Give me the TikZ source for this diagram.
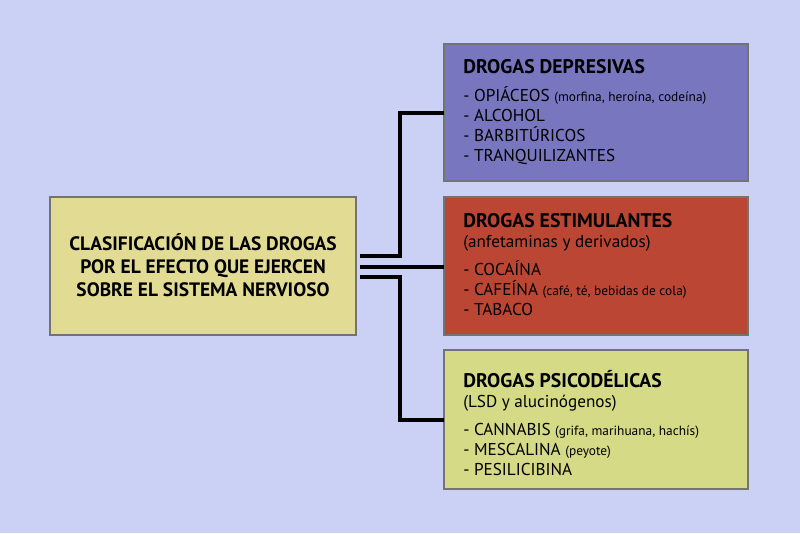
\documentclass[tikz,border=0pt]{standalone}
\usepackage{fontspec}
\setmainfont{PT Sans}
\usetikzlibrary{positioning}
\definecolor{fondo}{RGB}{203,208,245}
\definecolor{caqui}{RGB}{226,219,148}
\definecolor{morado}{RGB}{120,118,190}
\definecolor{rojo}{RGB}{188,70,52}
\definecolor{verde}{RGB}{212,218,134}
\tikzset{
  caja/.style={draw=black!55, line width=0.8pt},
  linea/.style={line width=2.2pt, black},
  texto/.style={anchor=north west, align=left, inner sep=0pt,
    font=\fontsize{12.2}{14.2}\selectfont}
}
\newcommand{\peq}[1]{{\fontsize{9.5}{10}\selectfont #1}}
\begin{document}
\begin{tikzpicture}[x=0.025cm, y=-0.025cm]

  % fondo
  \fill[fondo] (0,0) rectangle (800,533);
  \useasboundingbox (0,0) rectangle (800,533);

  % cajas
  \draw[caja, fill=caqui] (50,197) rectangle (356,335);
  \draw[caja, fill=morado] (444,44) rectangle (748,181);
  \draw[caja, fill=rojo] (444,197) rectangle (748,335);
  \draw[caja, fill=verde] (444,350) rectangle (748,489);

  \node[align=center, font=\bfseries\fontsize{13.8}{16.5}\selectfont] (clasif) at (203,265)
    {CLASIFICACIÓN DE LAS DROGAS\\POR EL EFECTO QUE EJERCEN\\SOBRE EL SISTEMA NERVIOSO};

  % conectores
  \coordinate (a1) at (360,256);
  \coordinate (a2) at (360,267);
  \coordinate (a3) at (360,277);
  \coordinate (b1) at (444,113);
  \coordinate (b2) at (444,267);
  \coordinate (b3) at (444,420);
  \draw[linea] (a1) -| (400,113) -- (b1);
  \draw[linea] (a2) -- (b2);
  \draw[linea] (a3) -| (400,420) -- (b3);

  % textos
  \node[texto] (depresivas) at (463,59)
    {\textbf{\fontsize{14}{14}\selectfont DROGAS DEPRESIVAS}\\[6pt]
     - OPIÁCEOS \peq{(morfina, heroína, codeína)}\\
     - ALCOHOL\\
     - BARBITÚRICOS\\
     - TRANQUILIZANTES};
  \node[texto] (estimulantes) at (463,213)
    {\textbf{\fontsize{14}{14}\selectfont DROGAS ESTIMULANTES}\\
     (anfetaminas y derivados)\\[6pt]
     - COCAÍNA\\
     - CAFEÍNA \peq{(café, té, bebidas de cola)}\\
     - TABACO};
  \node[texto] (psicodelicas) at (463,370)
    {\textbf{\fontsize{14}{14}\selectfont DROGAS PSICODÉLICAS}\\
     (LSD y alucinógenos)\\[6pt]
     - CANNABIS \peq{(grifa, marihuana, hachís)}\\
     - MESCALINA \peq{(peyote)}\\
     - PESILICIBINA};
\end{tikzpicture}
\end{document}
